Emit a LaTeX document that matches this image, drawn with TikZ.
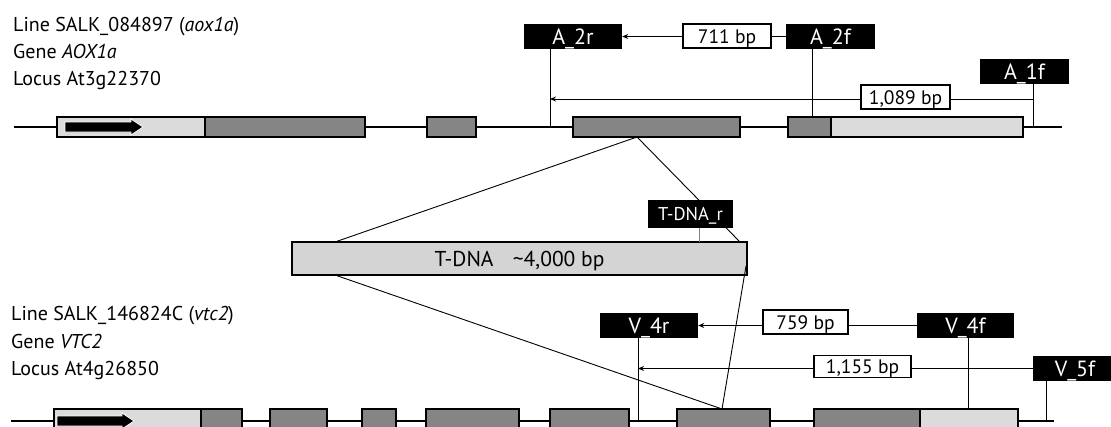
\documentclass[tikz,border=0pt]{standalone}
\usepackage{fontspec}
\setmainfont{PT Sans}
\usetikzlibrary{arrows.meta}
\definecolor{exongray}{gray}{0.52}
\definecolor{utrgray}{gray}{0.86}
\definecolor{tdnagray}{gray}{0.83}
\begin{document}
\begin{tikzpicture}[x=1pt,y=-1pt,
  genel/.style={line width=1.7pt},
  exon/.style={draw, line width=1.4pt, fill=exongray},
  utr/.style={draw, line width=1.4pt, fill=utrgray},
  tss/.style={fill=black, draw=white, line width=0.8pt},
  primer/.style={fill=black, text=white, inner sep=0pt, minimum height=25pt, text height=15pt, text depth=0pt, font=\fontsize{22}{23}\selectfont},
  bplab/.style={draw, fill=white, line width=1.1pt, inner sep=0pt, minimum height=24pt, text height=14pt, text depth=0pt, font=\fontsize{19.5}{21}\selectfont},
  conn/.style={line width=1pt},
  ptr/.style={conn, -{Stealth[length=6pt,width=5pt]}},
  ins/.style={line width=0.9pt},
  info/.style={anchor=base west, inner sep=0pt, font=\fontsize{20}{24}\selectfont}
]
\clip (0,0) rectangle (1111,426);
\fill[white] (0,0) rectangle (1111,426);

% ---------- top gene (AOX1a) ----------
\node[info] (t1) at (13,31) {Line SALK\_084897 (\textit{aox1a})};
\node[info] (t2) at (13,58) {Gene \textit{AOX1a}};
\node[info] (t3) at (13,85) {Locus At3g22370};

\draw[genel] (14,127) -- (1062,127);
\draw[utr] (57,117) rectangle (205,137);
\draw[tss] (65,122) -- (131,122) -- (131,119) -- (143,127) -- (131,135) -- (131,132) -- (65,132) -- cycle;
\draw[exon] (205,117) rectangle (365,137);
\draw[exon] (427,117) rectangle (476,137);
\draw[exon] (573,117) rectangle (740,137);
\draw[exon] (788,117) rectangle (831,137);
\draw[utr] (831,117) rectangle (1023,137);

\coordinate (insA) at (637,137);
\coordinate (a2rfoot) at (550,127);
\coordinate (a2ffoot) at (812,117);
\coordinate (a1ffoot) at (1033,127);

\node[primer, minimum width=98pt] (a2r) at (573,36.5) {A\_2r};
\node[primer, minimum width=89pt] (a2f) at (830.5,36.5) {A\_2f};
\node[primer, minimum width=89pt] (a1f) at (1024.5,71.5) {A\_1f};

\draw[conn] (a2rfoot |- a2r.south) -- (a2rfoot);
\draw[conn] (a2ffoot |- a2f.south) -- (a2ffoot);
\draw[conn] (a1ffoot |- a1f.south) -- (a1ffoot);

\draw[ptr] (a2f.west) -- (a2r.east);
\node[bplab, minimum width=88pt] (bp711) at (727,36) {711 bp};
\coordinate (s1089) at (1033,99);
\draw[ptr] (s1089) -- (a2rfoot |- s1089);
\node[bplab, minimum width=89pt] (bp1089) at (905.5,97) {1,089 bp};

% ---------- T-DNA ----------
\coordinate (insV) at (722,409);
\draw[ins] (insA) -- (335,242);
\draw[ins] (insA) -- (740,242);
\node[draw, line width=1.4pt, fill=tdnagray, minimum width=455pt, minimum height=33pt, inner sep=0pt,
      text height=15pt, text depth=0pt,
      font=\fontsize{21.5}{24}\selectfont] (tdna) at (519.5,258.5) {T-DNA\hspace{0.9em}\textasciitilde4,000 bp};
\node[fill=black, text=white, inner sep=0pt, minimum width=85pt, minimum height=28pt,
      text height=13pt, text depth=0pt,
      font=\fontsize{18.5}{20}\selectfont] (tdnar) at (690.5,214) {T-DNA\_r};
\draw[line width=0.7pt, gray] (699,228) -- (699,242);

% ---------- bottom gene (VTC2) ----------
\node[info] (b1) at (11,320) {Line SALK\_146824C (\textit{vtc2})};
\node[info] (b2) at (11,348) {Gene \textit{VTC2}};
\node[info] (b3) at (11,375) {Locus At4g26850};

\draw[genel] (11,421) -- (1054,421);
\draw[utr] (54,409) rectangle (201,433);
\draw[tss] (57,416) -- (122,416) -- (122,413) -- (134,421) -- (122,429) -- (122,426) -- (57,426) -- cycle;
\draw[exon] (201,409) rectangle (242,433);
\draw[exon] (270,409) rectangle (327,433);
\draw[exon] (362,409) rectangle (396,433);
\draw[exon] (426,409) rectangle (519,433);
\draw[exon] (550,409) rectangle (629,433);
\draw[exon] (677,409) rectangle (770,433);
\draw[exon] (814,409) rectangle (920,433);
\draw[utr] (920,409) rectangle (1018,433);
\draw[ins] (335,275) -- (insV);
\draw[ins] (746,266) -- (insV);

\coordinate (v4rfoot) at (638,421);
\coordinate (v4ffoot) at (968,409);
\coordinate (v5ffoot) at (1046,421);

\node[primer, minimum width=98pt] (v4r) at (649,325.5) {V\_4r};
\node[primer, minimum width=97pt] (v4f) at (965.5,325.5) {V\_4f};
\node[primer, minimum width=84pt] (v5f) at (1075,368.5) {V\_5f};

\draw[conn] (v4rfoot |- v4r.south) -- (v4rfoot);
\draw[conn] (v4ffoot |- v4f.south) -- (v4ffoot);
\draw[conn] (v5ffoot |- v5f.south) -- (v5ffoot);

\draw[ptr] (v4f.west) -- (v4r.east);
\node[bplab, minimum width=85pt] (bp759) at (805.5,322) {759 bp};
\draw[ptr] (v5f.west) -- (v4rfoot |- v5f.west);
\node[bplab, minimum width=97pt, minimum height=22pt, text height=13pt] (bp1155) at (862.5,366.5) {1,155 bp};
\end{tikzpicture}
\end{document}
